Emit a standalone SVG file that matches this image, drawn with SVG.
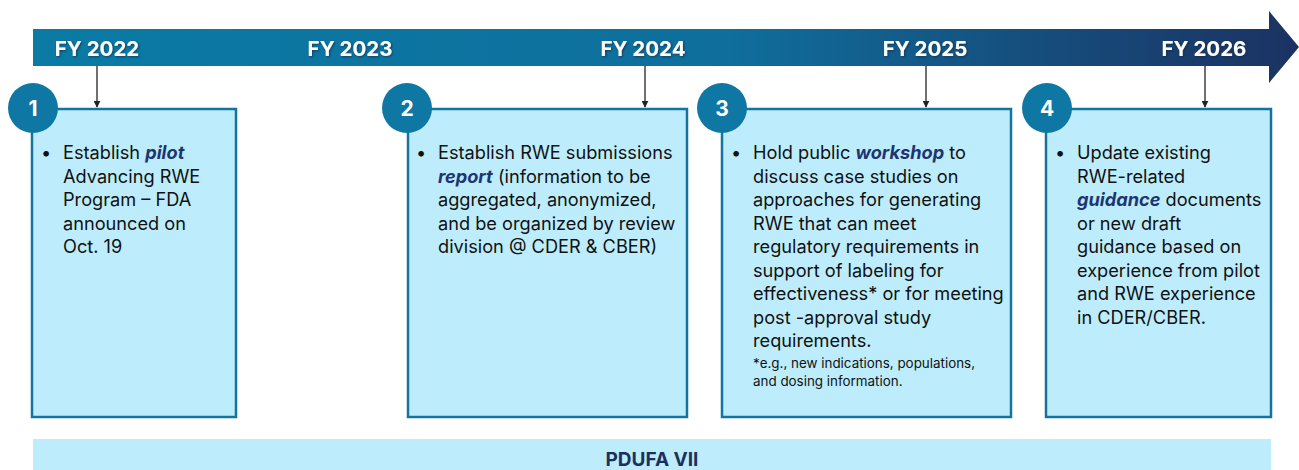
<svg xmlns="http://www.w3.org/2000/svg" width="1299" height="470" viewBox="0 0 1299 470">
  <defs>
    <linearGradient id="bannerGrad" x1="33" y1="0" x2="1299" y2="0" gradientUnits="userSpaceOnUse">
      <stop offset="0" stop-color="#0a7ba5"/>
      <stop offset="0.55" stop-color="#0f6e9c"/>
      <stop offset="1" stop-color="#1b3262"/>
    </linearGradient>
    <marker id="tip" viewBox="0 0 10 10" refX="9" refY="5" markerWidth="7" markerHeight="7" markerUnits="userSpaceOnUse" orient="auto">
      <path d="M0,0 L10,5 L0,10 z" fill="#222"/>
    </marker>
    <filter id="shadow" x="-10%" y="-20%" width="120%" height="150%">
      <feDropShadow dx="1" dy="1" stdDeviation="0.8" flood-color="#0a2a40" flood-opacity="0.7"/>
    </filter>
  </defs>
  <style>
    .year { font-family: Inter, "Liberation Sans", sans-serif; font-weight: 700; font-size: 20.5px; fill: #ffffff; text-anchor: middle; }
    .box { fill: #bdedfc; stroke: #1474a0; stroke-width: 2.5; }
    .badge { fill: #0e77a3; }
    .num { font-family: Inter, "Liberation Sans", sans-serif; font-weight: 700; font-size: 21px; fill: #ffffff; text-anchor: middle; }
    .body { font-family: Inter, "Liberation Sans", sans-serif; font-size: 18.2px; fill: #111111; }
    .em { font-weight: 700; font-style: italic; fill: #1e3572; }
    .note { font-family: Inter, "Liberation Sans", sans-serif; font-size: 13.4px; fill: #111111; }
    .link { stroke: #222; stroke-width: 1.3; fill: none; }
    .footer { font-family: Inter, "Liberation Sans", sans-serif; font-weight: 700; font-size: 19px; fill: #1e2f5e; text-anchor: middle; }
  </style>

  <rect width="1299" height="470" fill="#ffffff"/>

  <!-- timeline banner -->
  <g id="timeline">
    <path d="M33,29 H1269 V11 L1299,47 L1269,83 V66 H33 Z" fill="url(#bannerGrad)"/>
    <g filter="url(#shadow)">
      <text class="year" x="97" y="56">FY 2022</text>
      <text class="year" x="350" y="56">FY 2023</text>
      <text class="year" x="643" y="56">FY 2024</text>
      <text class="year" x="925" y="56">FY 2025</text>
      <text class="year" x="1204" y="56">FY 2026</text>
    </g>
  </g>

  <!-- year-to-step connectors -->
  <g id="connectors">
    <line class="link" x1="97" y1="66" x2="97" y2="107" marker-end="url(#tip)"/>
    <line class="link" x1="645" y1="66" x2="645" y2="107" marker-end="url(#tip)"/>
    <line class="link" x1="926" y1="66" x2="926" y2="107" marker-end="url(#tip)"/>
    <line class="link" x1="1205" y1="66" x2="1205" y2="107" marker-end="url(#tip)"/>
  </g>

  <!-- step 1 -->
  <g id="step1">
    <rect class="box" x="32" y="109" width="204" height="308"/>
    <circle class="badge" cx="33" cy="108" r="25"/>
    <text class="num" x="33" y="115.5">1</text>
    <text class="body">
      <tspan x="41" y="159">•</tspan><tspan x="63" y="159">Establish <tspan class="em">pilot</tspan></tspan>
      <tspan x="63" y="182.5">Advancing RWE</tspan>
      <tspan x="63" y="206">Program – FDA</tspan>
      <tspan x="63" y="229.5">announced on</tspan>
      <tspan x="63" y="253">Oct. 19</tspan>
    </text>
  </g>

  <!-- step 2 -->
  <g id="step2">
    <rect class="box" x="408" y="109" width="279" height="308"/>
    <circle class="badge" cx="407" cy="108" r="25"/>
    <text class="num" x="407" y="115.5">2</text>
    <text class="body">
      <tspan x="416" y="159">•</tspan><tspan x="438" y="159">Establish RWE submissions</tspan>
      <tspan x="438" y="182.5"><tspan class="em">report</tspan> (information to be</tspan>
      <tspan x="438" y="206">aggregated, anonymized,</tspan>
      <tspan x="438" y="229.5">and be organized by review</tspan>
      <tspan x="438" y="253">division @ CDER &amp; CBER)</tspan>
    </text>
  </g>

  <!-- step 3 -->
  <g id="step3">
    <rect class="box" x="722" y="109" width="289" height="308"/>
    <circle class="badge" cx="722" cy="108" r="25"/>
    <text class="num" x="722" y="115.5">3</text>
    <text class="body">
      <tspan x="731" y="159">•</tspan><tspan x="753" y="159">Hold public <tspan class="em">workshop</tspan> to</tspan>
      <tspan x="753" y="182.5">discuss case studies on</tspan>
      <tspan x="753" y="206">approaches for generating</tspan>
      <tspan x="753" y="229.5">RWE that can meet</tspan>
      <tspan x="753" y="253">regulatory requirements in</tspan>
      <tspan x="753" y="276.5">support of labeling for</tspan>
      <tspan x="753" y="300">effectiveness* or for meeting</tspan>
      <tspan x="753" y="323.5">post -approval study</tspan>
      <tspan x="753" y="347">requirements.</tspan>
    </text>
    <text class="note">
      <tspan x="753" y="368">*e.g., new indications, populations,</tspan>
      <tspan x="753" y="386">and dosing information.</tspan>
    </text>
  </g>

  <!-- step 4 -->
  <g id="step4">
    <rect class="box" x="1046" y="109" width="225" height="308"/>
    <circle class="badge" cx="1047" cy="108" r="25"/>
    <text class="num" x="1047" y="115.5">4</text>
    <text class="body">
      <tspan x="1055" y="159">•</tspan><tspan x="1077" y="159">Update existing</tspan>
      <tspan x="1077" y="182.5">RWE-related</tspan>
      <tspan x="1077" y="206"><tspan class="em">guidance</tspan> documents</tspan>
      <tspan x="1077" y="229.5">or new draft</tspan>
      <tspan x="1077" y="253">guidance based on</tspan>
      <tspan x="1077" y="276.5">experience from pilot</tspan>
      <tspan x="1077" y="300">and RWE experience</tspan>
      <tspan x="1077" y="323.5">in CDER/CBER.</tspan>
    </text>
  </g>

  <!-- program bar -->
  <g id="program">
    <rect x="33" y="439" width="1238" height="40" fill="#bdedfc"/>
    <text class="footer" x="652" y="466">PDUFA VII</text>
  </g>
</svg>
